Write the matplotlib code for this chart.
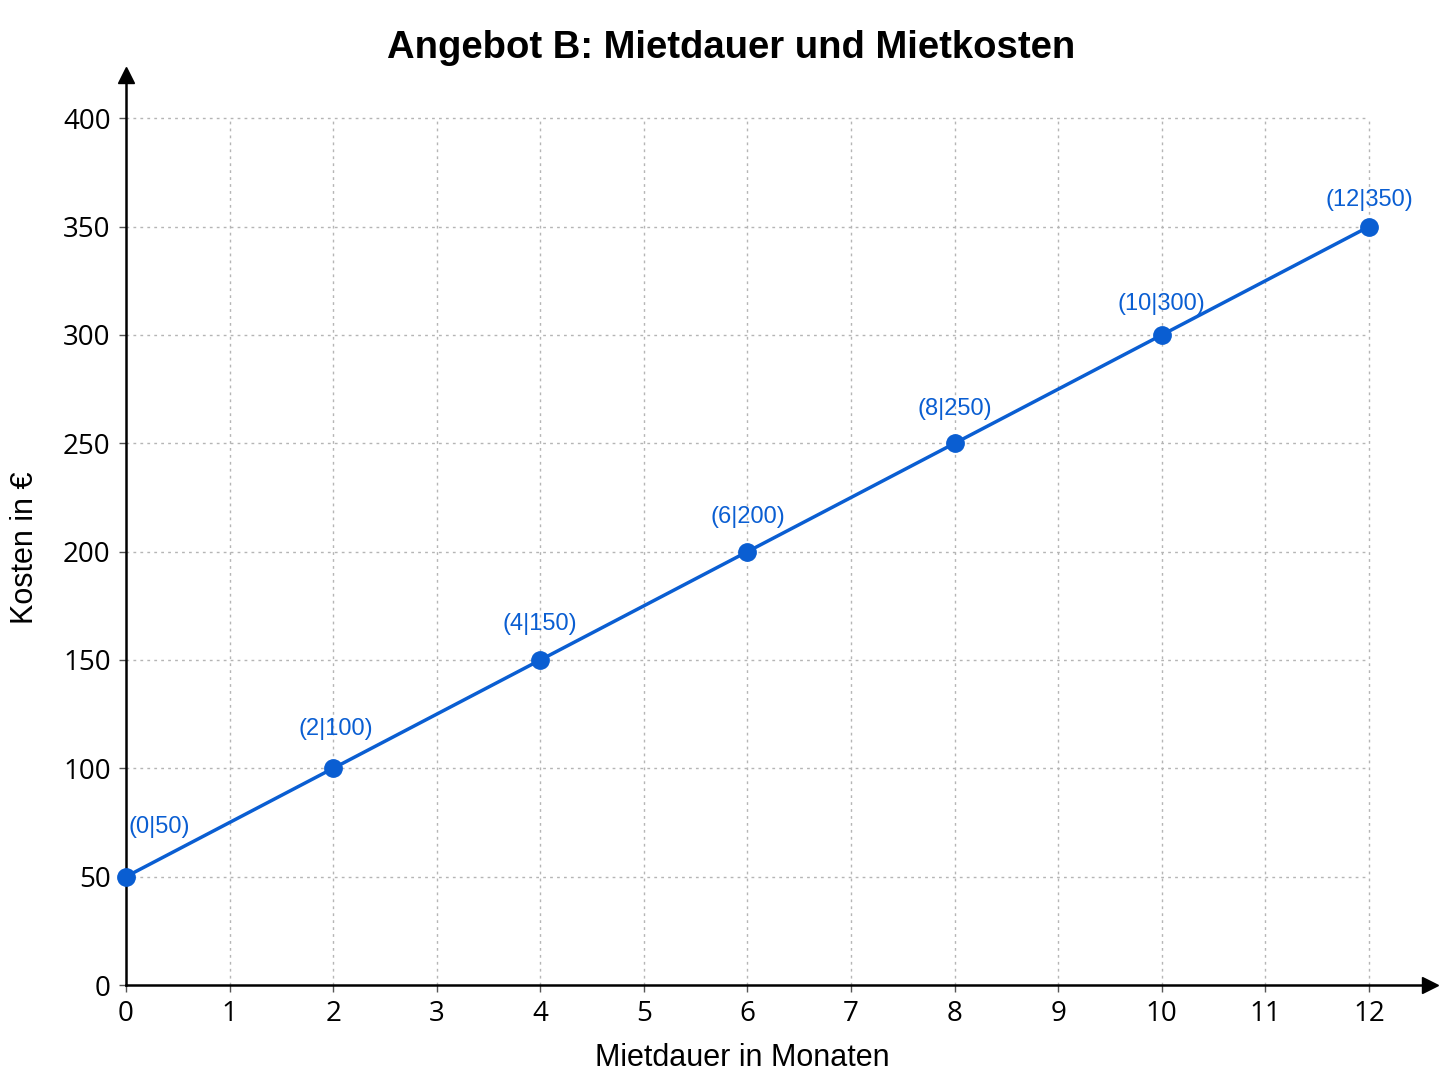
import matplotlib
matplotlib.use("Agg")
import matplotlib.pyplot as plt

# data
months = [0, 2, 4, 6, 8, 10, 12]
costs = [50, 100, 150, 200, 250, 300, 350]
x_ticks = list(range(0, 13))
y_ticks = list(range(0, 401, 50))

# label offsets in points (dx, dy) and alignment, purely styling
label_offsets = [(2, 36), (2, 28), (0, 26), (0, 25), (0, 25), (0, 22), (0, 19)]
label_ha = ['left', 'center', 'center', 'center', 'center', 'center', 'center']

BLUE = '#0A5ED2'

fig = plt.figure(figsize=(14.48, 10.86), dpi=100)
ax = fig.add_axes([126 / 1448, 101 / 1086, (1430 - 126) / 1448, (985 - 75) / 1086])

ax.set_xlim(0, 12.59)
ax.set_ylim(0, 420)

# dotted grid only inside the data range
ax.hlines(y_ticks[1:], 0, 12, colors='#b5b5b5', linestyles=(0, (2, 3)), linewidth=1.0, zorder=1)
ax.vlines(x_ticks[1:], 0, 400, colors='#b5b5b5', linestyles=(0, (2, 3)), linewidth=1.0, zorder=1)

ax.plot(months, costs, color=BLUE, linewidth=2.5, marker='o', markersize=12.5,
        zorder=4, clip_on=False)

for i, (m, c) in enumerate(zip(months, costs)):
    ax.annotate(f"({m}|{c})", (m, c), xytext=label_offsets[i], textcoords='offset points',
                ha=label_ha[i], va='center', color=BLUE, fontsize=17,
                family='Liberation Sans', zorder=5)

# axes with arrows
for s in ['top', 'right']:
    ax.spines[s].set_visible(False)
for s in ['left', 'bottom']:
    ax.spines[s].set_linewidth(1.8)
    ax.spines[s].set_zorder(3)
ax.plot(1, 0, '>', color='black', markersize=12, transform=ax.transAxes, clip_on=False)
ax.plot(0, 1, '^', color='black', markersize=12, transform=ax.transAxes, clip_on=False)

ax.set_xticks(x_ticks)
ax.set_yticks(y_ticks)
ax.tick_params(axis='both', direction='out', length=5, width=1, color='#555555',
               labelsize=20, pad=6)
for lab in ax.get_xticklabels() + ax.get_yticklabels():
    lab.set_family('Open Sans')

ax.set_xlabel('Mietdauer in Monaten', fontsize=22, family='Liberation Sans')
ax.set_ylabel('Kosten in €', fontsize=22, family='Liberation Sans')
ax.xaxis.set_label_coords(0.473, -0.064)
ax.yaxis.set_label_coords(-0.066, 0.481)

fig.suptitle('Angebot B: Mietdauer und Mietkosten', x=0.505, y=0.972, fontsize=27.5,
             fontweight='bold', family='Liberation Sans')

fig.savefig('out.png', dpi=100, facecolor='white')
